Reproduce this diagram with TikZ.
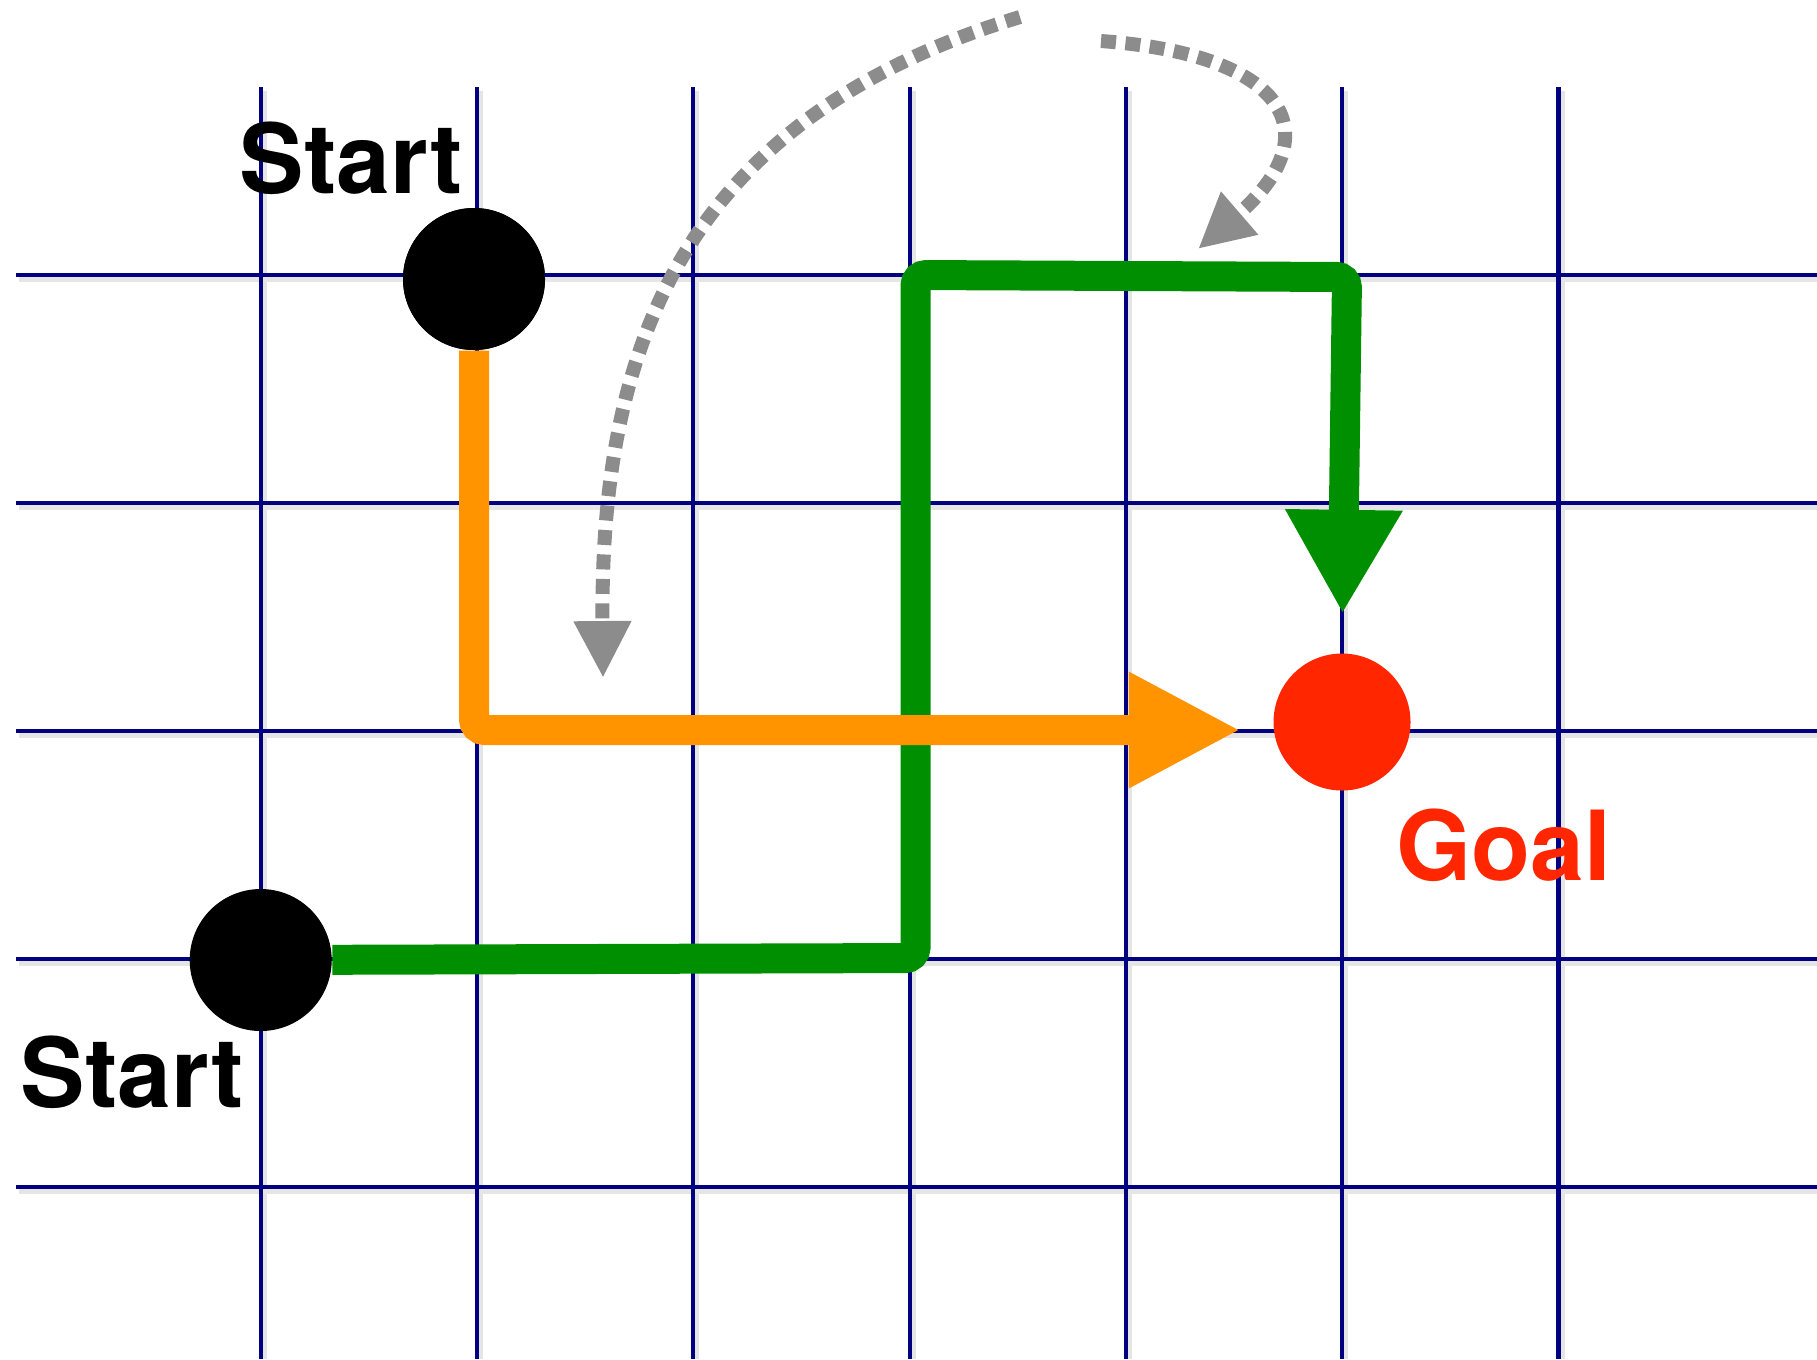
\documentclass[tikz,border=0pt]{standalone}
\usepackage{fontspec}
\setmainfont{TeX Gyre Heros}
\usepackage{tikz}
\usetikzlibrary{arrows.meta,positioning}
\usepackage{xcolor}
\definecolor{GridNavy}{RGB}{0,0,128}
\definecolor{PathGreen}{RGB}{0,143,0}
\definecolor{PathOrange}{RGB}{255,147,0}
\definecolor{GoalRed}{RGB}{255,38,0}
\definecolor{HintGray}{RGB}{140,140,140}

\begin{document}
\begin{tikzpicture}[
  gridline/.style={draw=GridNavy,line width=0.042cm},
  gridshade/.style={draw=black!10,line width=0.06cm},
  startdot/.style={circle,fill=black,minimum size=1.42cm,inner sep=0pt},
  goaldot/.style={circle,fill=GoalRed,minimum size=1.37cm,inner sep=0pt},
  lbl/.style={font=\fontsize{27.5}{30}\selectfont\bfseries,inner sep=0pt,anchor=base west},
  route/.style={line width=0.30cm,rounded corners=3pt},
  hint/.style={draw=HintGray,line width=0.14cm,dash pattern=on 0.15cm off 0.095cm},
]
\useasboundingbox (0,0) rectangle (18.17,-13.59);
% grid (with a faint shadow)
\foreach \i in {0,...,6}
  \draw[gridshade] ({2.637+2.163*\i},-0.91) -- ({2.637+2.163*\i},-13.59);
\foreach \j in {0,...,4}
  \draw[gridshade] (0.19,{-2.786-2.28*\j}) -- (18.17,{-2.786-2.28*\j});
\foreach \i in {0,...,6}
  \draw[gridline] ({2.607+2.163*\i},-0.87) -- ({2.607+2.163*\i},-13.59);
\foreach \j in {0,...,4}
  \draw[gridline] (0.16,{-2.746-2.28*\j}) -- (18.17,{-2.746-2.28*\j});
% start / goal
\node[startdot] (s1) at (4.74,-2.79) {};
\node[startdot] (s2) at (2.607,-9.6) {};
\node[goaldot] (goal) at (13.42,-7.22) {};
\node[lbl] (s1lbl) at (2.39,-1.93) {Start};
\node[lbl] (s2lbl) at (0.20,-11.07) {Start};
\node[lbl,text=GoalRed] (goallbl) at (13.96,-8.80) {Goal};
% routes
\coordinate (gturn1) at (9.155,-9.58);
\coordinate (gturn2) at (9.155,-2.75);
\coordinate (gturn3) at (13.47,-2.77);
\draw[route,draw=PathGreen,-{Triangle[length=1.04cm,width=1.10cm]},shorten >=0.39cm]
  (s2) -- (gturn1) -- (gturn2) -- (gturn3) -- (goal.north);
\coordinate (oturn) at (4.74,-7.30);
\draw[route,draw=PathOrange,-{Triangle[length=1.12cm,width=1.08cm]},shorten >=0.32cm]
  (s1) -- (oturn) -- (goal.west |- oturn);
\node[startdot] at (s1) {};
% hints
\coordinate (h1a) at (10.20,-0.17);
\coordinate (h1b) at (6.03,-6.78);
\draw[hint,-{Triangle[length=0.57cm,width=0.54cm]}]
  (h1a) .. controls (6.8,-1.2) and (6.0,-3.5) .. (h1b);
\coordinate (h2a) at (11.01,-0.41);
\coordinate (h2b) at (11.98,-2.49);
\draw[hint,-{Triangle[length=0.55cm,width=0.53cm]}]
  (h2a) .. controls (12.9,-0.55) and (13.3,-1.35) .. (h2b);
\end{tikzpicture}
\end{document}
